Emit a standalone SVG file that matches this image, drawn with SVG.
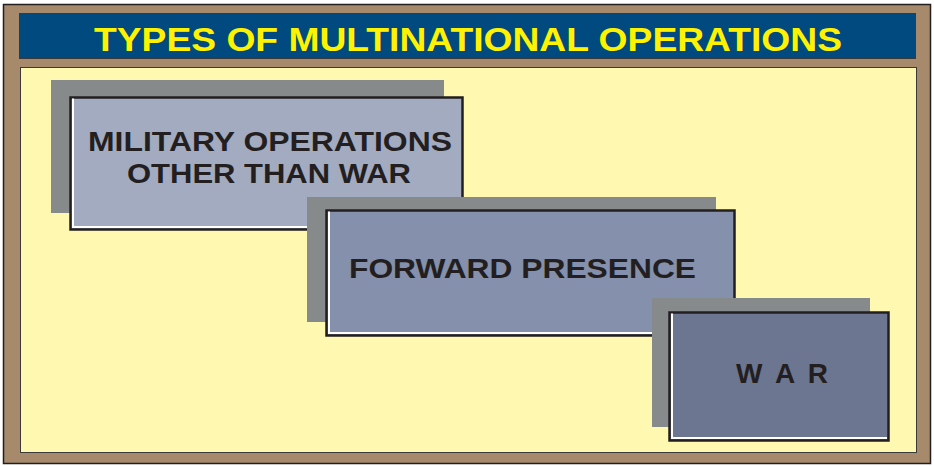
<svg xmlns="http://www.w3.org/2000/svg" width="934" height="466" viewBox="0 0 934 466">
<style>
.shadow{fill:#868a8a}
.box{stroke:#231f20;stroke-width:2.5}
.hl{fill:none;stroke:#ffffff;stroke-width:2}
.lbl{font-family:"Liberation Sans",Arial,sans-serif;font-weight:bold;font-size:28px;fill:#231f20}
.title{font-family:"Liberation Sans",Arial,sans-serif;font-weight:bold;font-size:34px;fill:#fff200}
</style>
<rect x="3.5" y="4.5" width="927" height="459" fill="#a68a6b" stroke="#231f20" stroke-width="1.5"/>
<g id="title-bar">
<rect x="19.5" y="13.5" width="896" height="45" fill="#004a7f" stroke="#3a3a3a" stroke-width="1"/>
<text class="title" x="94" y="51" textLength="748" lengthAdjust="spacingAndGlyphs">TYPES OF MULTINATIONAL OPERATIONS</text>
</g>
<rect id="panel" x="20.5" y="67.5" width="896" height="385" fill="#fff8b0" stroke="#3a3a3a" stroke-width="1"/>
<g id="connectors"></g>
<g id="node-mootw">
<rect class="shadow" x="51" y="80" width="393" height="133"/>
<rect class="box" x="70.5" y="97.5" width="392" height="132" fill="#a3abc0"/>
<polyline class="hl" points="73,98.5 73,227 461,227"/>
<text class="lbl" x="88" y="151" textLength="364" lengthAdjust="spacingAndGlyphs">MILITARY OPERATIONS</text>
<text class="lbl" x="127" y="183" textLength="284" lengthAdjust="spacingAndGlyphs">OTHER THAN WAR</text>
</g>
<g id="node-forward">
<rect class="shadow" x="307" y="197" width="409" height="125"/>
<rect class="box" x="326.5" y="210.5" width="408" height="125" fill="#8490ac"/>
<polyline class="hl" points="329,211.5 329,333 733,333"/>
<text class="lbl" x="349" y="278" textLength="347" lengthAdjust="spacingAndGlyphs">FORWARD PRESENCE</text>
<circle cx="693.5" cy="300" r="1" fill="#231f20"/>
</g>
<g id="node-war">
<rect class="shadow" x="652" y="298" width="218" height="129"/>
<rect class="box" x="669.5" y="312.5" width="219" height="128" fill="#6c7690"/>
<polyline class="hl" points="672,313.5 672,438 887,438"/>
<text class="lbl" x="736" y="383" textLength="92" lengthAdjust="spacing">W A R</text>
</g>
</svg>
